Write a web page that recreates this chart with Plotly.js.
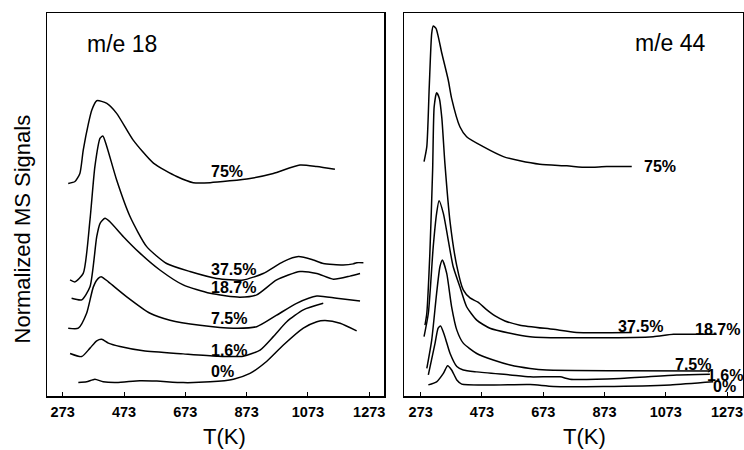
<!DOCTYPE html>
<html>
<head>
<meta charset="utf-8">
<script src="https://cdn.plot.ly/plotly-3.0.1.min.js"></script>
<style>
  html, body { margin: 0; padding: 0; background: #fff; }
  #chart { width: 744px; height: 450px; }
</style>
</head>
<body>
<div id="chart"></div>
<script>
// Temperature axis ticks (K)
const tickVals = [273, 473, 673, 873, 1073, 1273];
const tickText = ['273', '473', '673', '873', '1073', '1273'];

// ---- m/e 18 (water) traces, normalized and stacked by loading ----
const m18_75_T = [291, 313, 329, 340, 357, 368, 384, 417, 449, 503, 569, 645, 699, 754, 884, 960, 1047, 1102, 1161];
const m18_75_S = [55.5, 56.0, 58.1, 64.2, 71.2, 74.7, 77.1, 76.4, 73.8, 66.8, 60.8, 57.3, 55.7, 55.7, 56.8, 58.1, 60.3, 59.9, 59.2];

const m18_375_T = [297, 313, 340, 362, 378, 395, 404, 417, 449, 493, 547, 612, 688, 775, 862, 927, 993, 1042, 1091, 1123, 1188, 1221, 1232, 1254];
const m18_375_S = [30.3, 29.8, 32.0, 46.0, 59.9, 67.3, 67.9, 65.1, 56.4, 46.8, 39.0, 34.6, 32.5, 30.7, 30.3, 32.0, 35.1, 36.4, 35.5, 34.6, 34.2, 34.5, 34.8, 34.8];

const m18_187_T = [302, 335, 362, 384, 395, 411, 427, 471, 525, 590, 666, 754, 851, 906, 971, 1047, 1102, 1156, 1210, 1243];
const m18_187_S = [25.5, 25.1, 28.5, 41.6, 45.1, 46.4, 45.5, 41.6, 37.3, 32.9, 29.0, 26.8, 25.8, 26.4, 30.3, 32.5, 32.0, 30.5, 31.3, 32.0];

const m18_75b_T = [291, 324, 351, 373, 389, 400, 422, 482, 558, 623, 721, 830, 906, 971, 1036, 1102, 1167, 1243];
const m18_75b_S = [17.7, 17.7, 21.6, 28.5, 30.7, 31.1, 29.8, 25.9, 21.6, 19.8, 18.5, 17.7, 18.1, 21.1, 24.2, 26.1, 25.5, 24.8];

const m18_16_T = [297, 335, 362, 384, 400, 422, 460, 536, 666, 775, 862, 917, 960, 1004, 1058, 1123];
const m18_16_S = [11.1, 10.3, 12.5, 14.4, 14.8, 13.8, 12.9, 11.8, 11.0, 10.4, 10.4, 12.0, 15.5, 19.4, 22.5, 24.2];

const m18_0_T = [324, 351, 378, 405, 449, 525, 580, 666, 754, 830, 884, 938, 993, 1058, 1102, 1129, 1178, 1232];
const m18_0_S = [3.5, 3.7, 4.4, 3.7, 3.5, 4.0, 3.9, 3.5, 3.7, 4.4, 5.9, 9.0, 13.3, 17.7, 19.4, 19.7, 19.0, 17.0];

// ---- m/e 44 (CO2) traces ----
const m44_75_T = [284, 293, 301, 309, 314, 323, 342, 363, 374, 401, 423, 477, 543, 597, 662, 750, 815, 880, 962];
const m44_75_S = [61.2, 65.1, 80.8, 94.7, 96.6, 96.0, 89.5, 82.5, 77.7, 70.3, 67.7, 65.1, 62.5, 61.4, 60.5, 60.1, 59.7, 59.9, 59.9];

const m44_375_T = [287, 293, 303, 312, 317, 325, 334, 342, 352, 369, 391, 412, 434, 460, 486, 516, 548, 597, 706, 782, 962];
const m44_375_S = [18.5, 21.6, 37.3, 59.0, 75.5, 79.2, 77.7, 72.6, 60.8, 45.4, 33.9, 27.7, 25.6, 24.5, 22.7, 20.9, 19.6, 18.5, 17.4, 16.6, 16.6];

const m44_187_T = [284, 298, 314, 325, 333, 347, 363, 379, 401, 423, 456, 499, 565, 630, 673, 858, 1032, 1098, 1239];
const m44_187_S = [15.5, 21.6, 39.0, 47.7, 51.0, 47.7, 40.7, 33.8, 28.5, 23.3, 19.8, 17.7, 16.4, 15.5, 15.3, 15.2, 15.5, 16.1, 16.1];

const m44_75b_T = [293, 309, 325, 336, 344, 358, 374, 391, 412, 456, 510, 565, 630, 684, 924, 1217];
const m44_75b_S = [7.2, 14.6, 26.8, 33.8, 35.5, 32.0, 23.3, 17.2, 13.8, 11.1, 9.4, 8.1, 7.2, 6.8, 6.6, 6.5];

const m44_16_T = [298, 320, 330, 338, 352, 369, 391, 412, 456, 565, 630, 728, 760, 924, 1109, 1217];
const m44_16_S = [5.5, 13.8, 17.7, 18.3, 15.5, 11.1, 7.7, 6.8, 6.3, 5.5, 5.0, 5.0, 4.4, 4.6, 5.5, 5.7];

const m44_0_T = [298, 325, 347, 361, 374, 391, 407, 630, 706, 869, 1087, 1228];
const m44_0_S = [2.9, 3.7, 5.9, 7.9, 6.8, 4.2, 3.1, 3.0, 2.5, 2.5, 2.9, 3.7];

// Curve labels: text, temperature and signal where each label sits
const m18_labels = ['75%', '37.5%', '18.7%', '7.5%', '1.6%', '0%'];
const m18_labelT = [754, 754, 754, 754, 754, 754];
const m18_labelS = [58.6, 32.9, 28.3, 20.3, 12.0, 6.3];

const m44_labels = ['75%', '37.5%', '18.7%', '7.5%', '1.6%', '0%'];
const m44_labelT = [1000, 913, 1166, 1100, 1205, 1224];
const m44_labelS = [59.9, 18.1, 17.4, 8.3, 5.3, 2.4];

const FONT = '"Liberation Sans", Arial, Helvetica, sans-serif';

function curve(x, y, xa, ya) {
  return {
    x: x, y: y, xaxis: xa, yaxis: ya, type: 'scatter', mode: 'lines',
    line: { color: '#000', width: 1.5, shape: 'spline', smoothing: 0.6 },
    hoverinfo: 'skip', showlegend: false
  };
}

const data = [
  curve(m18_75_T, m18_75_S, 'x', 'y'),
  curve(m18_375_T, m18_375_S, 'x', 'y'),
  curve(m18_187_T, m18_187_S, 'x', 'y'),
  curve(m18_75b_T, m18_75b_S, 'x', 'y'),
  curve(m18_16_T, m18_16_S, 'x', 'y'),
  curve(m18_0_T, m18_0_S, 'x', 'y'),
  curve(m44_75_T, m44_75_S, 'x2', 'y2'),
  curve(m44_375_T, m44_375_S, 'x2', 'y2'),
  curve(m44_187_T, m44_187_S, 'x2', 'y2'),
  curve(m44_75b_T, m44_75b_S, 'x2', 'y2'),
  curve(m44_16_T, m44_16_S, 'x2', 'y2'),
  curve(m44_0_T, m44_0_S, 'x2', 'y2')
];

function xAxis(domain, range, anchor) {
  return {
    domain: domain, range: range, anchor: anchor,
    tickmode: 'array', tickvals: tickVals, ticktext: tickText,
    ticks: 'inside', ticklen: 4, tickwidth: 1, tickcolor: '#000',
    ticklabelstandoff: 2,
    tickfont: { family: FONT, size: 14.5, weight: 700, color: '#000' },
    showline: true, linecolor: '#000', linewidth: 1.5, mirror: true,
    showgrid: false, zeroline: false, fixedrange: true
  };
}
function yAxis(domain, anchor) {
  return {
    domain: domain, range: [0, 100], anchor: anchor,
    showticklabels: false, ticks: '',
    showline: true, linecolor: '#000', linewidth: 1.5, mirror: true,
    showgrid: false, zeroline: false, fixedrange: true
  };
}

const annotations = [];
function addLabels(texts, ts, ss, xr, yr) {
  texts.forEach((t, i) => {
    annotations.push({
      text: t, x: ts[i], y: ss[i], xref: xr, yref: yr,
      xanchor: 'left', yanchor: 'middle', showarrow: false, borderpad: 0,
      font: { family: FONT, size: 16, weight: 700, color: '#000' }
    });
  });
}
addLabels(m18_labels, m18_labelT, m18_labelS, 'x', 'y');
addLabels(m44_labels, m44_labelT, m44_labelS, 'x2', 'y2');

// Panel titles
annotations.push({ text: 'm/e 18', xref: 'paper', yref: 'paper', x: 0.1142, y: 0.9033,
  xanchor: 'left', yanchor: 'middle', showarrow: false,
  font: { family: FONT, size: 23, color: '#000' } });
annotations.push({ text: 'm/e 44', xref: 'paper', yref: 'paper', x: 0.8513, y: 0.9044,
  xanchor: 'left', yanchor: 'middle', showarrow: false,
  font: { family: FONT, size: 23, color: '#000' } });

// Axis titles
annotations.push({ text: 'T(K)', xref: 'paper', yref: 'paper', x: 0.3015, y: 0.0311,
  xanchor: 'center', yanchor: 'middle', showarrow: false, borderpad: 0,
  font: { family: FONT, size: 22, color: '#000' } });
annotations.push({ text: 'T(K)', xref: 'paper', yref: 'paper', x: 0.7852, y: 0.0311,
  xanchor: 'center', yanchor: 'middle', showarrow: false, borderpad: 0,
  font: { family: FONT, size: 22, color: '#000' } });
annotations.push({ text: 'Normalized MS Signals', xref: 'paper', yref: 'paper', x: 0.0302, y: 0.4911,
  xanchor: 'center', yanchor: 'middle', textangle: -90, showarrow: false,
  font: { family: FONT, size: 22, color: '#000' } });

const layout = {
  width: 744, height: 450,
  margin: { l: 0, r: 0, t: 0, b: 0, pad: 0 },
  paper_bgcolor: '#fff', plot_bgcolor: '#fff',
  showlegend: false,
  xaxis: xAxis([0.0636, 0.5165], [222.8, 1322.1], 'y'),
  yaxis: yAxis([0.12, 0.9711], 'x'),
  xaxis2: xAxis([0.5434, 0.9982], [219.5, 1324], 'y2'),
  yaxis2: yAxis([0.12, 0.9711], 'x2'),
  annotations: annotations
};

Plotly.newPlot('chart', data, layout, { staticPlot: true, displayModeBar: false });
</script>
</body>
</html>
